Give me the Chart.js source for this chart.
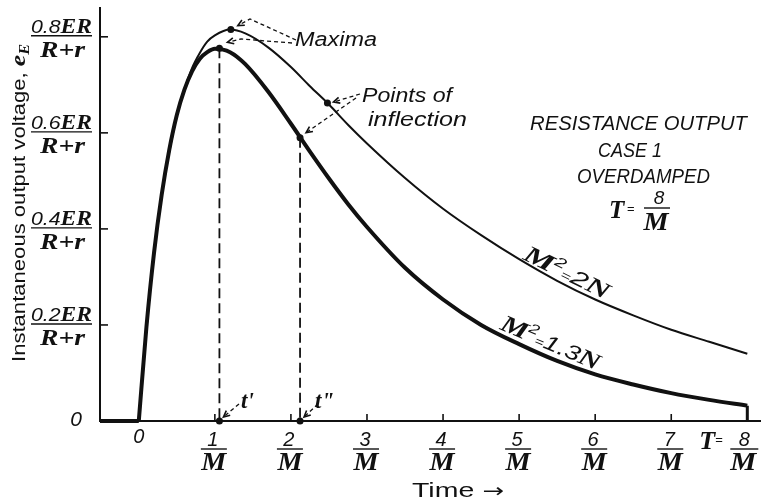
<!DOCTYPE html>
<html>
<head>
<meta charset="utf-8">
<script src="https://cdn.jsdelivr.net/npm/chart.js@4.4.1/dist/chart.umd.min.js"></script>
<style>
  html, body { margin: 0; padding: 0; background: #fff; }
  #wrap { width: 761px; height: 501px; }
</style>
</head>
<body>
<div id="wrap"><canvas id="chart"></canvas></div>
<script>
// time in units of 1/M, voltage in units of ER/(R+r)
const TIME = [0, 0.1, 0.2, 0.3, 0.4, 0.5, 0.6, 0.7, 0.8, 0.9, 1.0, 1.2, 1.4, 1.7, 2.0, 2.25, 2.5, 2.75, 3.0, 3.5, 4.0, 4.5, 5.0, 5.5, 6.0, 6.5, 7.0, 7.5, 8.0];
const V_2N = [0, 0.19, 0.35, 0.47, 0.56, 0.635, 0.69, 0.735, 0.766, 0.79, 0.803, 0.815, 0.807, 0.778, 0.737, 0.697, 0.659, 0.617, 0.578, 0.506, 0.442, 0.387, 0.337, 0.292, 0.253, 0.22, 0.19, 0.165, 0.14];
const V_13N = [0, 0.195, 0.35, 0.47, 0.564, 0.637, 0.69, 0.728, 0.754, 0.768, 0.775, 0.768, 0.743, 0.686, 0.619, 0.561, 0.505, 0.452, 0.404, 0.319, 0.253, 0.2, 0.16, 0.125, 0.097, 0.076, 0.058, 0.044, 0.032];

const MAXIMA_T = [1.21, 1.06];
const MAXIMA_V = [0.815, 0.776];
const INFLECTION_T = [2.48, 2.12];
const INFLECTION_V = [0.662, 0.59];

const X_TICKS = [1, 2, 3, 4, 5, 6, 7];
const X_TICK_LABELS = ['1', '2', '3', '4', '5', '6', '7'];
const Y_TICKS = [0.2, 0.4, 0.6, 0.8];
const Y_TICK_LABELS = ['0.2', '0.4', '0.6', '0.8'];

const INK = '#111';
const serifBI = n => `bold italic ${n}px 'Liberation Serif'`;
const sansI = n => `italic ${n}px 'Liberation Sans'`;
const sans = n => `${n}px 'Liberation Sans'`;

const pts = (xs, ys) => xs.map((x, i) => ({ x, y: ys[i] }));
const last = a => a[a.length - 1];

function drawRuns(ctx, runs, width) {
  let total = 0;
  for (const r of runs) {
    ctx.font = r.font;
    r.w = ctx.measureText(r.t).width;
    total += r.w;
  }
  const k = width ? width / total : 1;
  ctx.save();
  ctx.scale(k, 1);
  let x = 0;
  for (const r of runs) {
    ctx.font = r.font;
    ctx.fillText(r.t, x, r.dy || 0);
    x += r.w;
  }
  ctx.restore();
  return total * k;
}

function label(ctx, runs, left, base, width, angle) {
  ctx.save();
  ctx.translate(left, base);
  if (angle) ctx.rotate(angle);
  drawRuns(ctx, runs, width);
  ctx.restore();
}

function centered(ctx, runs, cx, base, width) {
  let total = 0;
  for (const r of runs) { ctx.font = r.font; total += ctx.measureText(r.t).width; }
  const w = width || total;
  label(ctx, runs, cx - w / 2, base, w);
}

function line(ctx, x1, y1, x2, y2, w) {
  ctx.lineWidth = w;
  ctx.beginPath();
  ctx.moveTo(x1, y1);
  ctx.lineTo(x2, y2);
  ctx.stroke();
}

function dashedArrow(ctx, path) {
  ctx.save();
  ctx.lineWidth = 1.3;
  ctx.setLineDash([4, 3]);
  ctx.beginPath();
  ctx.moveTo(path[0][0], path[0][1]);
  for (const p of path.slice(1)) ctx.lineTo(p[0], p[1]);
  ctx.stroke();
  ctx.setLineDash([]);
  const [px, py] = path[path.length - 2];
  const [tx, ty] = path[path.length - 1];
  const a = Math.atan2(ty - py, tx - px);
  ctx.lineWidth = 1.6;
  ctx.beginPath();
  ctx.moveTo(tx - 7 * Math.cos(a - 0.45), ty - 7 * Math.sin(a - 0.45));
  ctx.lineTo(tx, ty);
  ctx.lineTo(tx - 7 * Math.cos(a + 0.45), ty - 7 * Math.sin(a + 0.45));
  ctx.stroke();
  ctx.restore();
}

const drawing = {
  id: 'drawing',
  afterDatasetsDraw(chart) {
    const { ctx, chartArea, scales: { x, y } } = chart;
    ctx.save();
    ctx.fillStyle = INK;
    ctx.strokeStyle = INK;
    ctx.textBaseline = 'alphabetic';

    // y ticks and fraction labels
    Y_TICKS.forEach((v, i) => {
      const py = y.getPixelForValue(v);
      line(ctx, chartArea.left, py, chartArea.left + 8, py, 1.6);
      label(ctx, [{ t: Y_TICK_LABELS[i], font: sansI(19) }, { t: 'ER', font: serifBI(21) }], 31, py - 4, 61);
      line(ctx, 31, py - 1, 92, py - 1, 1.4);
      label(ctx, [{ t: 'R+r', font: serifBI(23) }], 40, py + 20, 45);
    });
    centered(ctx, [{ t: '0', font: sansI(21) }], 76, y.getPixelForValue(0) + 5);

    // x ticks and fraction labels
    const base = y.getPixelForValue(0);
    X_TICKS.forEach((t, i) => {
      const px = x.getPixelForValue(t);
      line(ctx, px, base, px, base - 7, 1.6);
      centered(ctx, [{ t: X_TICK_LABELS[i], font: sansI(20) }], px - 2, 446);
      line(ctx, px - 14, 449, px + 12, 449, 1.4);
      centered(ctx, [{ t: 'M', font: serifBI(26) }], px - 1, 470, 25);
    });
    centered(ctx, [{ t: '0', font: sansI(20) }], x.getPixelForValue(0), 443);
    const p8 = x.getPixelForValue(8);
    label(ctx, [{ t: 'T', font: serifBI(26) }], p8 - 48, 449);
    label(ctx, [{ t: '=', font: sans(13) }], p8 - 32, 444);
    centered(ctx, [{ t: '8', font: sansI(20) }], p8 - 3, 446);
    line(ctx, p8 - 17, 449, p8 + 11, 449, 1.4);
    centered(ctx, [{ t: 'M', font: serifBI(26) }], p8 - 4, 470, 26);

    // axis titles
    label(ctx, [{ t: 'Time', font: sans(21) }, { t: ' \u2192', font: "19px 'DejaVu Sans'" }], 412, 497, 92);
    ctx.save();
    ctx.translate(25, 362);
    ctx.rotate(-Math.PI / 2);
    drawRuns(ctx, [
      { t: 'Instantaneous output voltage, ', font: sans(19) },
      { t: 'e', font: serifBI(22) },
      { t: 'E', font: serifBI(14), dy: 4 }
    ], 318);
    ctx.restore();

    // case description
    label(ctx, [{ t: 'RESISTANCE OUTPUT', font: sansI(21) }], 530, 130, 217);
    label(ctx, [{ t: 'CASE 1', font: sansI(21) }], 598, 157, 64);
    label(ctx, [{ t: 'OVERDAMPED', font: sansI(21) }], 577, 183, 133);
    label(ctx, [{ t: 'T', font: serifBI(25) }], 609, 218);
    label(ctx, [{ t: '=', font: sans(13) }], 627, 213);
    centered(ctx, [{ t: '8', font: sansI(19) }], 659, 204);
    line(ctx, 644, 208, 670, 208, 1.4);
    centered(ctx, [{ t: 'M', font: serifBI(25) }], 656, 230, 25);

    // curve labels
    label(ctx, [
      { t: 'M', font: serifBI(24) }, { t: '2', font: sansI(14), dy: -9 },
      { t: '=', font: sans(12) }, { t: '2', font: sansI(21) }, { t: 'N', font: serifBI(23) }
    ], 522, 259, 93, 26 * Math.PI / 180);
    label(ctx, [
      { t: 'M', font: serifBI(24) }, { t: '2', font: sansI(14), dy: -9 },
      { t: '=', font: sans(12) }, { t: '1.3', font: sansI(21) }, { t: 'N', font: serifBI(23) }
    ], 499, 329, 106, 23 * Math.PI / 180);

    // annotations
    label(ctx, [{ t: 'Maxima', font: sansI(20) }], 295, 46, 82);
    label(ctx, [{ t: 'Points of', font: sansI(20) }], 362, 102, 90);
    label(ctx, [{ t: 'inflection', font: sansI(20) }], 368, 126, 99);
    const mx = MAXIMA_T.map(t => x.getPixelForValue(t));
    const my = MAXIMA_V.map(v => y.getPixelForValue(v));
    const ix = INFLECTION_T.map(t => x.getPixelForValue(t));
    const iy = INFLECTION_V.map(v => y.getPixelForValue(v));
    dashedArrow(ctx, [[296, 40], [250, 19], [mx[0] + 7, my[0] - 4]]);
    dashedArrow(ctx, [[292, 43], [241, 39], [mx[1] + 8, my[1] - 6]]);
    dashedArrow(ctx, [[360, 94], [ix[0] + 6, iy[0] - 1]]);
    dashedArrow(ctx, [[356, 98], [ix[1] + 6, iy[1] - 5]]);
    dashedArrow(ctx, [[239, 404], [mx[1] + 4, base - 4]]);
    dashedArrow(ctx, [[318, 404], [ix[1] + 4, base - 4]]);
    label(ctx, [{ t: "t'", font: serifBI(23) }], 241, 408);
    label(ctx, [{ t: 't"', font: serifBI(23) }], 315, 408);

    ctx.restore();
  }
};

const lineSet = (data, width, extra) => Object.assign({
  data, showLine: true, borderColor: INK, borderWidth: width,
  pointRadius: 0, clip: false, tension: 0
}, extra || {});

new Chart(document.getElementById('chart'), {
  type: 'scatter',
  data: {
    datasets: [
      lineSet(pts([-0.51, 0], [0, 0]), 4),
      lineSet(pts(TIME, V_13N), 4, { cubicInterpolationMode: 'monotone', label: 'M²=1.3N' }),
      lineSet(pts([8, 8], [last(V_13N), 0]), 3),
      lineSet(pts(TIME, V_2N), 2, { cubicInterpolationMode: 'monotone', label: 'M²=2N' }),
      lineSet(pts([MAXIMA_T[1], MAXIMA_T[1]], [MAXIMA_V[1], 0]), 1.8, { borderDash: [10, 5] }),
      lineSet(pts([INFLECTION_T[1], INFLECTION_T[1]], [INFLECTION_V[1], 0]), 1.8, { borderDash: [10, 5] }),
      {
        data: pts(MAXIMA_T.concat(INFLECTION_T, [MAXIMA_T[1], INFLECTION_T[1]]),
                  MAXIMA_V.concat(INFLECTION_V, [0, 0])),
        pointRadius: 3.5, pointBackgroundColor: INK, pointBorderWidth: 0, clip: false
      }
    ]
  },
  options: {
    responsive: true,
    maintainAspectRatio: false,
    animation: false,
    layout: { padding: { left: 100, top: 8, right: 0, bottom: 80 }, autoPadding: false },
    plugins: { legend: { display: false }, tooltip: { enabled: false } },
    scales: {
      x: {
        type: 'linear', min: -0.51, max: 8.18,
        ticks: { display: false },
        grid: { display: false, drawTicks: false },
        border: { display: true, color: INK, width: 2 }
      },
      y: {
        type: 'linear', min: 0, max: 0.86,
        ticks: { display: false },
        grid: { display: false, drawTicks: false },
        border: { display: true, color: INK, width: 2 }
      }
    }
  },
  plugins: [drawing]
});
</script>
</body>
</html>
